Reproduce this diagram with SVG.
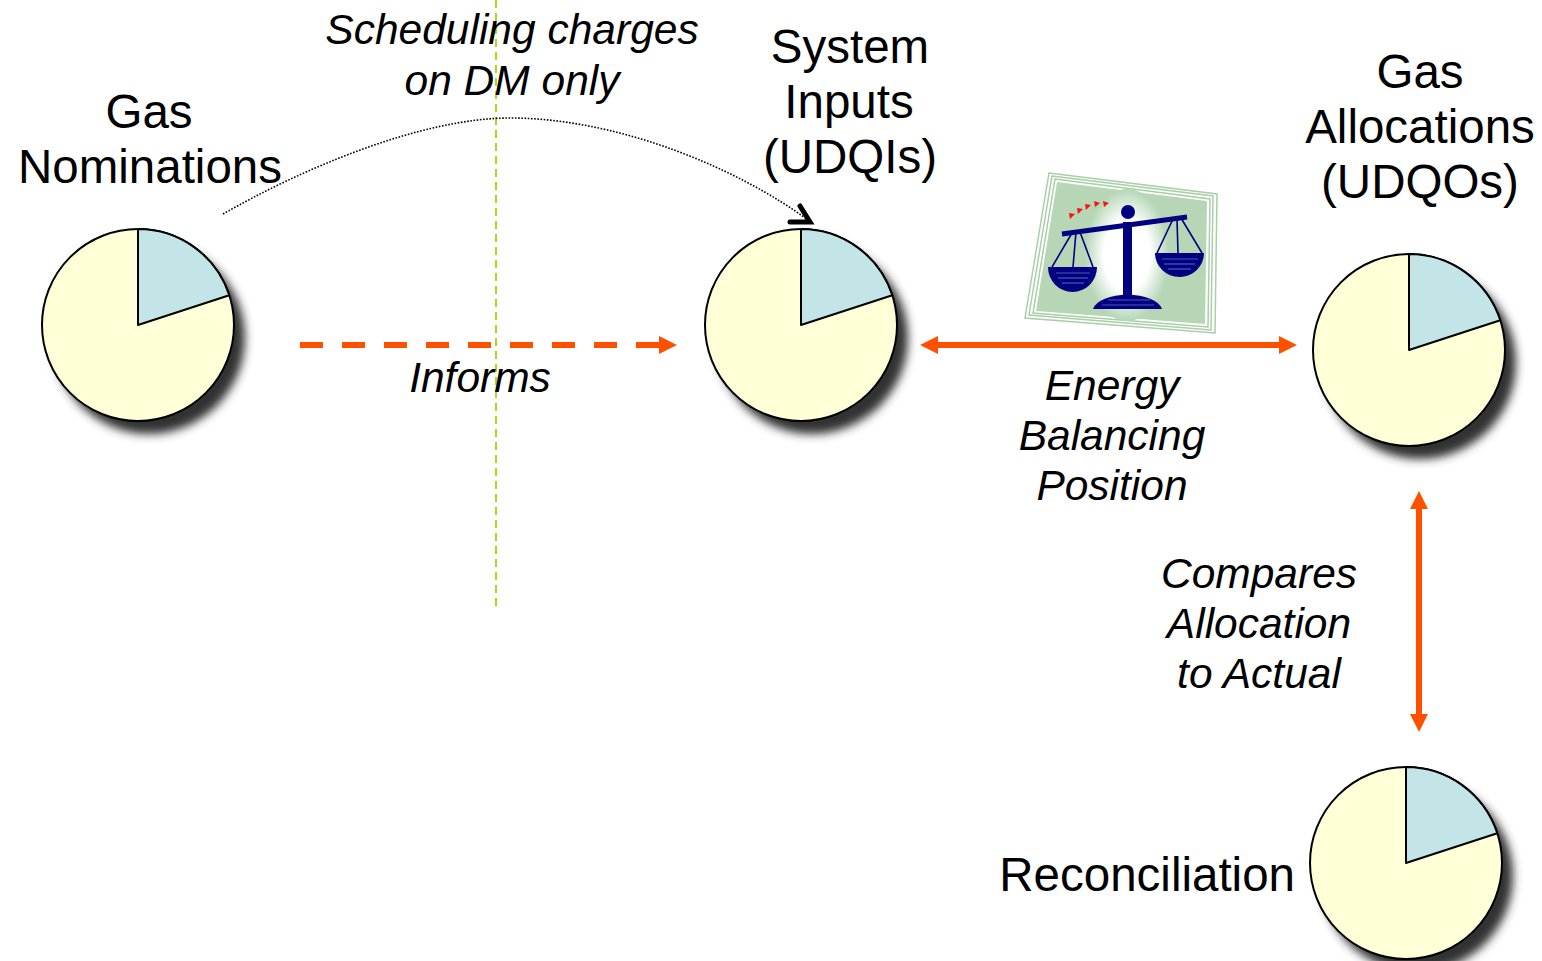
<svg xmlns="http://www.w3.org/2000/svg" xmlns:xlink="http://www.w3.org/1999/xlink" width="1542" height="961" viewBox="0 0 1542 961">
<style>
.t{font-family:"Liberation Sans",Arial,sans-serif;font-size:47.5px;fill:#000;text-anchor:middle}
.i{font-family:"Liberation Sans",Arial,sans-serif;font-size:42.5px;font-style:italic;fill:#000;text-anchor:middle}
.or{stroke:#ff5000;stroke-width:6;fill:none}
.navy{fill:#000080}
.str{stroke:#000080;stroke-width:1.6}
.stripe{stroke:#4a5ab0;stroke-width:1.2}
.tri{fill:#ff1010}
</style>
<defs>
<filter id="blur" x="-30%" y="-30%" width="160%" height="160%">
<feGaussianBlur stdDeviation="5"/>
</filter>
<radialGradient id="glow" cx="0.5" cy="0.5" r="0.5">
<stop offset="0" stop-color="#ffffff"/>
<stop offset="0.55" stop-color="#ffffff"/>
<stop offset="1" stop-color="#b6d6b6"/>
</radialGradient>
<g id="pie">
<circle cx="11" cy="13" r="96" fill="#333" filter="url(#blur)"/>
<circle cx="0" cy="0" r="96" fill="#ffffd8" stroke="#000" stroke-width="2"/>
<path d="M0,0 L0,-96 A96,96 0 0 1 91.3,-29.7 Z" fill="#c4e5e8" stroke="#000" stroke-width="2" stroke-linejoin="round"/>
</g>
<marker id="ah" viewBox="0 0 18 18" markerUnits="userSpaceOnUse" markerWidth="18" markerHeight="18" refX="8" refY="9" orient="auto-start-reverse">
<path d="M0,0 L18,9 L0,18 Z" fill="#ff5000"/>
</marker>
</defs>

<rect width="1542" height="961" fill="#fff"/>

<line x1="496" y1="0" x2="496" y2="608" stroke="#a8d400" stroke-width="1.8" stroke-dasharray="8 5"/>

<g id="connectors">
<path d="M223,214 C300,170 420,118 510,118 C620,118 740,170 808,220" fill="none" stroke="#000" stroke-width="1.6" stroke-dasharray="1.6 1.6"/>
<path d="M800,206 L810,222 L790,222" fill="none" stroke="#000" stroke-width="5" stroke-linecap="round" stroke-linejoin="miter"/>
<line class="or" x1="300" y1="345" x2="667" y2="345" stroke-dasharray="23 19" marker-end="url(#ah)"/>
<line class="or" x1="930" y1="345" x2="1287" y2="345" marker-start="url(#ah)" marker-end="url(#ah)"/>
<line class="or" x1="1419" y1="501" x2="1419" y2="722" marker-start="url(#ah)" marker-end="url(#ah)"/>
</g>

<g id="node-nominations">
<use xlink:href="#pie" href="#pie" x="138" y="325"/>
<text class="t" x="149" y="128">Gas</text>
<text class="t" x="150" y="183">Nominations</text>
</g>

<g id="node-inputs">
<use xlink:href="#pie" href="#pie" x="801" y="325"/>
<text class="t" x="850" y="63">System</text>
<text class="t" x="849" y="118">Inputs</text>
<text class="t" x="850" y="173">(UDQIs)</text>
</g>

<g id="node-allocations">
<use xlink:href="#pie" href="#pie" x="1409" y="350"/>
<text class="t" x="1420" y="88">Gas</text>
<text class="t" x="1420" y="143">Allocations</text>
<text class="t" x="1420" y="198">(UDQOs)</text>
</g>

<g id="node-reconciliation">
<use xlink:href="#pie" href="#pie" x="1406" y="863"/>
<text class="t" x="1295" y="891" style="text-anchor:end">Reconciliation</text>
</g>

<g id="scale-picture">
<polygon points="1049,173 1217,194 1215,333 1025,318" fill="#fff" stroke="#a8cfa8" stroke-width="1.5"/>
<polygon points="1052,176 1213,196 1211,330 1029,315" fill="#fff" stroke="#a8cfa8" stroke-width="1.5"/>
<polygon points="1055,179 1210,199 1208,327 1033,313" fill="#fff" stroke="#a8cfa8" stroke-width="1.5"/>
<polygon points="1057,182 1207,201 1205,324 1036,311" fill="#b6d6b6"/>
<ellipse cx="1127" cy="255" rx="42" ry="66" fill="url(#glow)"/>
<polygon class="tri" points="1069,213 1075,214 1070,219"/>
<polygon class="tri" points="1077,208 1083,209 1078,214"/>
<polygon class="tri" points="1085,204 1091,205 1086,210"/>
<polygon class="tri" points="1094,201 1100,203 1095,207"/>
<polygon class="tri" points="1103,201 1109,203 1104,207"/>
<line class="str" x1="1072" y1="233" x2="1052" y2="267"/>
<line class="str" x1="1076" y1="232" x2="1073" y2="267"/>
<line class="str" x1="1080" y1="232" x2="1093" y2="267"/>
<line class="str" x1="1173" y1="219" x2="1157" y2="253"/>
<line class="str" x1="1177" y1="219" x2="1178" y2="253"/>
<line class="str" x1="1181" y1="218" x2="1202" y2="253"/>
<line x1="1062" y1="234" x2="1187" y2="217" stroke="#000080" stroke-width="5"/>
<circle class="navy" cx="1128" cy="212" r="7"/>
<rect class="navy" x="1123" y="222" width="9" height="74"/>
<path class="navy" d="M1093,309 A35,17 0 0 1 1162,309 Z"/>
<path class="navy" d="M1048,267 A24.5,25 0 0 0 1097,267 Z"/>
<path class="navy" d="M1155,253 A24.5,24 0 0 0 1204,253 Z"/>
<line class="stripe" x1="1056" y1="273" x2="1090" y2="273"/>
<line class="stripe" x1="1058" y1="278" x2="1088" y2="278"/>
<line class="stripe" x1="1062" y1="283" x2="1084" y2="283"/>
<line class="stripe" x1="1162" y1="259" x2="1198" y2="259"/>
<line class="stripe" x1="1164" y1="264" x2="1195" y2="264"/>
<line class="stripe" x1="1168" y1="269" x2="1191" y2="269"/>
<line class="stripe" x1="1108" y1="300" x2="1150" y2="300"/>
<line class="stripe" x1="1102" y1="305" x2="1154" y2="305"/>
</g>

<g id="labels">
<text class="i" x="512" y="44">Scheduling charges</text>
<text class="i" x="512" y="95">on DM only</text>
<text class="i" x="480" y="392">Informs</text>
<text class="i" x="1112" y="400">Energy</text>
<text class="i" x="1112" y="450">Balancing</text>
<text class="i" x="1112" y="500">Position</text>
<text class="i" x="1259" y="588">Compares</text>
<text class="i" x="1259" y="638">Allocation</text>
<text class="i" x="1259" y="688">to Actual</text>
</g>
</svg>
